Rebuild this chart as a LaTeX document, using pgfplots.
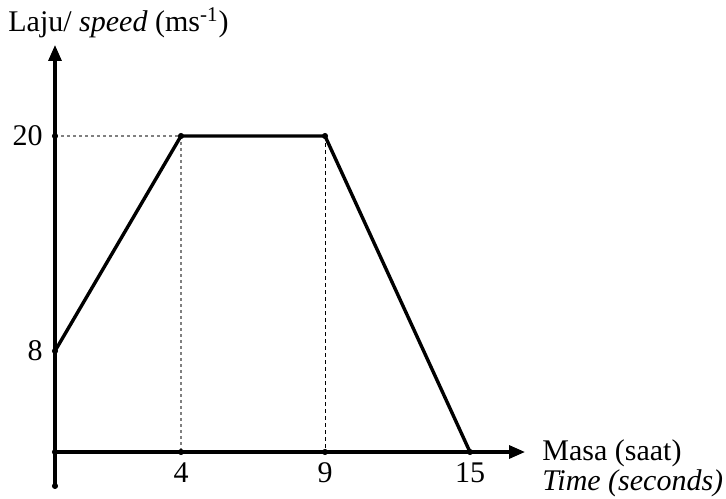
\documentclass[border=0pt]{standalone}
\usepackage{fontspec}
\setmainfont{Liberation Serif}
\usepackage{pgfplots}
\pgfplotsset{compat=1.18}
\usetikzlibrary{arrows.meta}
\begin{document}
\fontsize{15pt}{15pt}\selectfont
\begin{tikzpicture}
\begin{axis}[
  anchor=origin, at={(0pt,0pt)},
  x=0.5pt, y=0.5pt,
  x coord trafo/.code={\pgfmathparse{(#1<4) ? (31.5*#1) : ((#1<9) ? (126+28.8*(#1-4)) : (270+24.1667*(#1-9)))}},
  y coord trafo/.code={\pgfmathparse{(#1<8) ? (12.625*#1) : (101+17.9167*(#1-8))}},
  xmin=0, xmax=17.276, ymin=-2.69, ymax=25.08,
  axis lines=middle,
  axis line style={line width=1.6pt, -{Triangle[length=8pt,width=6.5pt]}},
  clip=false,
  font=\fontsize{15pt}{15pt}\selectfont,
  major tick length=0pt,
  xtick={4,9,15}, xticklabels={\textrm{4},\textrm{9},\textrm{15}},
  ytick={8,20}, yticklabels={\textrm{8},\textrm{20}},
  xticklabel style={anchor=north, inner sep=0pt, yshift=-5pt},
  yticklabel style={anchor=east, inner sep=0pt, xshift=-6pt},
  ylabel={Laju/ \textit{speed} (ms\textsuperscript{-1})},
  ylabel style={at={(rel axis cs:0,1)}, anchor=base west, rotate=0, xshift=-23.5pt, yshift=6.5pt, inner sep=0pt},
  xlabel={Masa (saat)\\\textit{Time (seconds)}},
  xlabel style={at={(axis cs:17.276,0)}, anchor=west, align=left, xshift=8.5pt, yshift=-8pt, inner sep=0pt},
]
\addplot[gray, line width=0.6pt, dash pattern=on 1.5pt off 1.5pt] coordinates {(0,20) (4,20) (4,0)};
\addplot[black, line width=0.5pt, dash pattern=on 2pt off 1.5pt] coordinates {(9,20) (9,0)};
\addplot[black, line width=1.7pt, line join=miter] coordinates {(0,8) (4,20) (9,20) (15,0)};
\addplot[only marks, mark=*, mark size=1.3pt, black] coordinates {(0,0) (4,0) (9,0) (15,0) (0,8) (0,20) (4,20) (9,20) (0,-2.69)};
\end{axis}
\pgfresetboundingbox
\path (-27.5pt,-23pt) rectangle (335.5pt,226pt);
\end{tikzpicture}
\end{document}
